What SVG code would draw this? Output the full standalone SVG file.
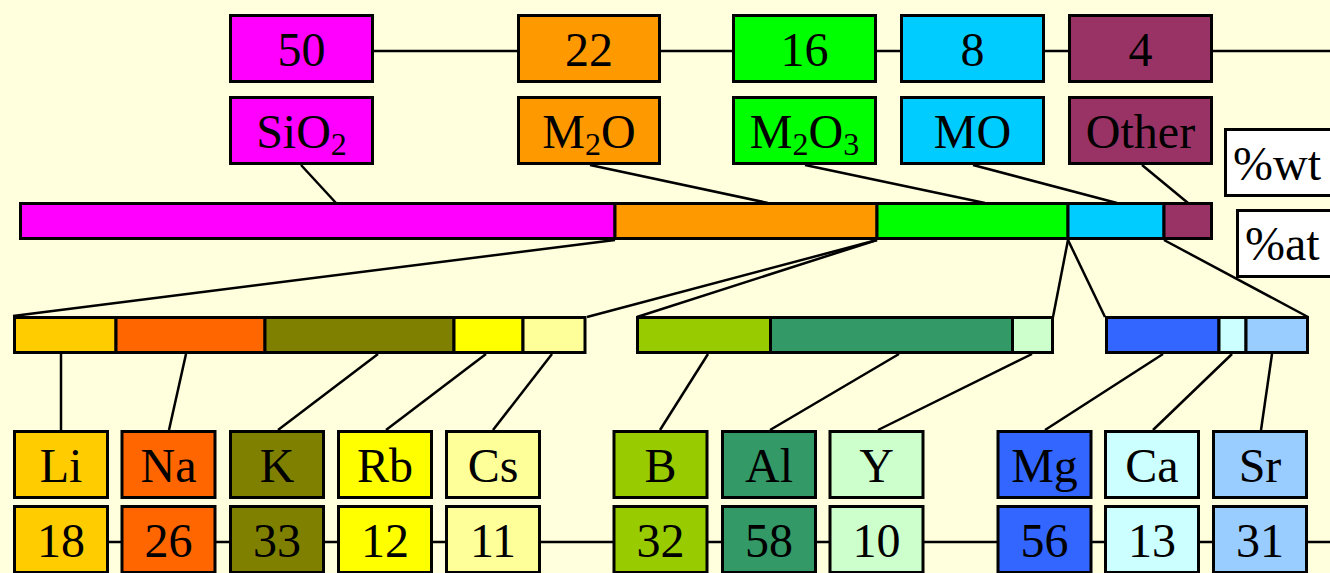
<svg xmlns="http://www.w3.org/2000/svg" width="1330" height="573" viewBox="0 0 1330 573">
<style>
.b{stroke:#000;stroke-width:3}
.t{font-family:"Liberation Serif","Times New Roman",serif;font-size:48px;text-anchor:middle;fill:#000}
.s{font-size:32px}
.c line{stroke:#000;stroke-width:2.5}
</style>
<rect width="1330" height="573" fill="#FFFFDD"/>
<g id="connectors" class="c">
<line x1="374" y1="51" x2="1330" y2="51"/>
<line x1="13" y1="542" x2="1330" y2="542"/>
<line x1="301" y1="165" x2="336" y2="203"/>
<line x1="590" y1="165" x2="768" y2="203"/>
<line x1="805" y1="165" x2="985" y2="203"/>
<line x1="973" y1="165" x2="1117" y2="203"/>
<line x1="1142" y1="165" x2="1188" y2="203"/>
<line x1="615" y1="240" x2="13" y2="316"/>
<line x1="877" y1="240" x2="587" y2="317"/>
<line x1="877" y1="240" x2="637" y2="317"/>
<line x1="1068" y1="240" x2="1053" y2="317"/>
<line x1="1068" y1="240" x2="1105" y2="317"/>
<line x1="1164" y1="240" x2="1308" y2="317"/>
<line x1="61" y1="354" x2="61" y2="430"/>
<line x1="186" y1="354" x2="169" y2="430"/>
<line x1="378" y1="354" x2="278" y2="430"/>
<line x1="486" y1="354" x2="386" y2="430"/>
<line x1="552" y1="354" x2="493" y2="430"/>
<line x1="708" y1="354" x2="660" y2="430"/>
<line x1="899" y1="354" x2="770" y2="430"/>
<line x1="1032" y1="354" x2="878" y2="430"/>
<line x1="1163" y1="354" x2="1045" y2="430"/>
<line x1="1232" y1="354" x2="1153" y2="430"/>
<line x1="1272" y1="354" x2="1261" y2="430"/>
</g>
<g id="wt-SiO2"><rect class="b" x="230.5" y="15.5" width="142" height="66" fill="#FF00FF"/><text class="t" x="301.5" y="66">50</text></g>
<g id="wt-M2O"><rect class="b" x="518.5" y="15.5" width="141" height="66" fill="#FF9900"/><text class="t" x="589" y="66">22</text></g>
<g id="wt-M2O3"><rect class="b" x="733.5" y="15.5" width="142" height="66" fill="#00FF00"/><text class="t" x="804.5" y="66">16</text></g>
<g id="wt-MO"><rect class="b" x="901.5" y="15.5" width="142" height="66" fill="#00CCFF"/><text class="t" x="972.5" y="66">8</text></g>
<g id="wt-Other"><rect class="b" x="1069.5" y="15.5" width="142" height="66" fill="#993366"/><text class="t" x="1140.5" y="66">4</text></g>
<g id="lbl-SiO2"><rect class="b" x="230.5" y="97.5" width="142" height="66" fill="#FF00FF"/><text class="t" x="301.5" y="148">SiO<tspan class="s" dy="7">2</tspan></text></g>
<g id="lbl-M2O"><rect class="b" x="518.5" y="97.5" width="141" height="66" fill="#FF9900"/><text class="t" x="589" y="148">M<tspan class="s" dy="7">2</tspan><tspan dy="-7">O</tspan></text></g>
<g id="lbl-M2O3"><rect class="b" x="733.5" y="97.5" width="142" height="66" fill="#00FF00"/><text class="t" x="804.5" y="148">M<tspan class="s" dy="7">2</tspan><tspan dy="-7">O</tspan><tspan class="s" dy="7">3</tspan></text></g>
<g id="lbl-MO"><rect class="b" x="901.5" y="97.5" width="142" height="66" fill="#00CCFF"/><text class="t" x="972.5" y="148">MO</text></g>
<g id="lbl-Other"><rect class="b" x="1069.5" y="97.5" width="142" height="66" fill="#993366"/><text class="t" x="1140.5" y="148">Other</text></g>
<g id="lbl-wt"><rect class="b" x="1225.5" y="129.5" width="130" height="66" fill="#FFFFFF"/><text class="t" x="1233" y="180" style="text-anchor:start">%wt</text></g>
<g id="lbl-at"><rect class="b" x="1237.5" y="210.5" width="130" height="66" fill="#FFFFFF"/><text class="t" x="1245" y="260" style="text-anchor:start">%at</text></g>
<g id="bar-at">
<rect class="b" x="20.5" y="203.5" width="594.5" height="35" fill="#FF00FF"/>
<rect class="b" x="615" y="203.5" width="262" height="35" fill="#FF9900"/>
<rect class="b" x="877" y="203.5" width="191" height="35" fill="#00FF00"/>
<rect class="b" x="1068" y="203.5" width="96" height="35" fill="#00CCFF"/>
<rect class="b" x="1164" y="203.5" width="47.5" height="35" fill="#993366"/>
</g>
<g id="bar-alkali">
<rect class="b" x="14.5" y="317.5" width="101.5" height="35" fill="#FFCC00"/>
<rect class="b" x="116" y="317.5" width="149" height="35" fill="#FF6600"/>
<rect class="b" x="265" y="317.5" width="189" height="35" fill="#808000"/>
<rect class="b" x="454" y="317.5" width="69" height="35" fill="#FFFF00"/>
<rect class="b" x="523" y="317.5" width="62" height="35" fill="#FFFF99"/>
</g>
<g id="bar-trivalent">
<rect class="b" x="637.5" y="317.5" width="133" height="35" fill="#99CC00"/>
<rect class="b" x="770.5" y="317.5" width="242" height="35" fill="#339966"/>
<rect class="b" x="1012.5" y="317.5" width="40" height="35" fill="#CCFFCC"/>
</g>
<g id="bar-divalent">
<rect class="b" x="1106.5" y="317.5" width="112.5" height="35" fill="#3366FF"/>
<rect class="b" x="1219" y="317.5" width="27" height="35" fill="#CCFFFF"/>
<rect class="b" x="1246" y="317.5" width="61.5" height="35" fill="#99CCFF"/>
</g>
<g id="Li"><rect class="b" x="14.5" y="431.5" width="93" height="66" fill="#FFCC00"/><text class="t" x="61" y="482">Li</text><rect class="b" x="14.5" y="506.5" width="93" height="66" fill="#FFCC00"/><text class="t" x="61" y="557">18</text></g>
<g id="Na"><rect class="b" x="122" y="431.5" width="93" height="66" fill="#FF6600"/><text class="t" x="168.5" y="482">Na</text><rect class="b" x="122" y="506.5" width="93" height="66" fill="#FF6600"/><text class="t" x="168.5" y="557">26</text></g>
<g id="K"><rect class="b" x="230.5" y="431.5" width="93" height="66" fill="#808000"/><text class="t" x="277" y="482">K</text><rect class="b" x="230.5" y="506.5" width="93" height="66" fill="#808000"/><text class="t" x="277" y="557">33</text></g>
<g id="Rb"><rect class="b" x="338.5" y="431.5" width="93" height="66" fill="#FFFF00"/><text class="t" x="385" y="482">Rb</text><rect class="b" x="338.5" y="506.5" width="93" height="66" fill="#FFFF00"/><text class="t" x="385" y="557">12</text></g>
<g id="Cs"><rect class="b" x="446.5" y="431.5" width="93" height="66" fill="#FFFF99"/><text class="t" x="493" y="482">Cs</text><rect class="b" x="446.5" y="506.5" width="93" height="66" fill="#FFFF99"/><text class="t" x="493" y="557">11</text></g>
<g id="B"><rect class="b" x="614" y="431.5" width="93" height="66" fill="#99CC00"/><text class="t" x="660.5" y="482">B</text><rect class="b" x="614" y="506.5" width="93" height="66" fill="#99CC00"/><text class="t" x="660.5" y="557">32</text></g>
<g id="Al"><rect class="b" x="722.5" y="431.5" width="93" height="66" fill="#339966"/><text class="t" x="769" y="482">Al</text><rect class="b" x="722.5" y="506.5" width="93" height="66" fill="#339966"/><text class="t" x="769" y="557">58</text></g>
<g id="Y"><rect class="b" x="830" y="431.5" width="93" height="66" fill="#CCFFCC"/><text class="t" x="876.5" y="482">Y</text><rect class="b" x="830" y="506.5" width="93" height="66" fill="#CCFFCC"/><text class="t" x="876.5" y="557">10</text></g>
<g id="Mg"><rect class="b" x="998" y="431.5" width="93" height="66" fill="#3366FF"/><text class="t" x="1044.5" y="482">Mg</text><rect class="b" x="998" y="506.5" width="93" height="66" fill="#3366FF"/><text class="t" x="1044.5" y="557">56</text></g>
<g id="Ca"><rect class="b" x="1105.5" y="431.5" width="93" height="66" fill="#CCFFFF"/><text class="t" x="1152" y="482">Ca</text><rect class="b" x="1105.5" y="506.5" width="93" height="66" fill="#CCFFFF"/><text class="t" x="1152" y="557">13</text></g>
<g id="Sr"><rect class="b" x="1213.5" y="431.5" width="93" height="66" fill="#99CCFF"/><text class="t" x="1260" y="482">Sr</text><rect class="b" x="1213.5" y="506.5" width="93" height="66" fill="#99CCFF"/><text class="t" x="1260" y="557">31</text></g>
</svg>
